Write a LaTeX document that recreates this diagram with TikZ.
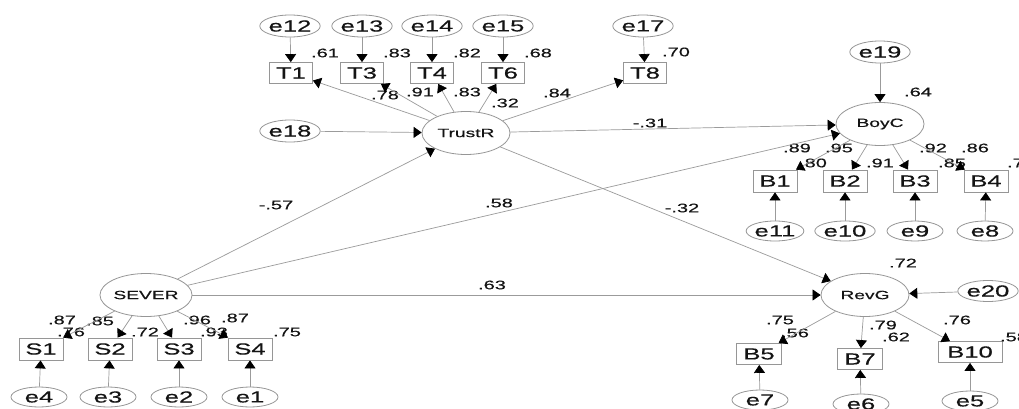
\documentclass[tikz,border=0pt]{standalone}
\usepackage{fontspec}
\setmainfont{Liberation Sans}
\newfontfamily\widesans[FakeStretch=1.6,FakeBold=0.4]{Liberation Sans}
\usetikzlibrary{arrows.meta,shapes.geometric}
\definecolor{edgegray}{RGB}{150,150,150}
\definecolor{linegray}{RGB}{155,155,155}
\definecolor{inkgray}{RGB}{20,20,20}
\begin{document}
\begin{tikzpicture}[x=1pt,y=-1pt,
  errv/.style={ellipse, draw=edgegray, line width=0.8pt, minimum width=56pt,
    minimum height=22pt, inner sep=0pt, text=inkgray,
    font=\widesans\fontsize{16}{16}\selectfont},
  obs/.style={rectangle, draw=edgegray, line width=0.8pt, minimum width=43pt,
    minimum height=21pt, inner sep=0pt, text=inkgray,
    font=\widesans\fontsize{16}{16}\selectfont},
  lat/.style={ellipse, draw=edgegray, line width=0.8pt, minimum width=88pt,
    minimum height=43pt, inner sep=0pt, text=inkgray,
    font=\widesans\fontsize{12}{12}\selectfont},
  coef/.style={inner sep=0pt, text=inkgray,
    font=\widesans\fontsize{12.5}{12.5}\selectfont},
  link/.style={draw=linegray, line width=0.7pt,
    -{Triangle[length=8pt,width=11pt,color=black]}}]
\useasboundingbox (0,0) rectangle (1019,409);
\clip (0,0) rectangle (1019,409);
\fill[white] (0,0) rectangle (1019,409);

% latent variables
\node[lat] (TrustR) at (466,133) {TrustR};
\node[lat] (BoyC) at (880,124) {BoyC};
\node[lat] (SEVER) at (146,295) {SEVER};
\node[lat] (RevG) at (865,295) {RevG};

% TrustR indicators and errors
\node[obs] (T1) at (291,73) {T1};
\node[obs] (T3) at (362,73) {T3};
\node[obs] (T4) at (432,73) {T4};
\node[obs] (T6) at (503,73) {T6};
\node[obs] (T8) at (645,73) {T8};
\node[errv] (e12) at (290,26) {e12};
\node[errv] (e13) at (362,26) {e13};
\node[errv] (e14) at (432,26) {e14};
\node[errv] (e15) at (503,26) {e15};
\node[errv] (e17) at (643,26) {e17};
\node[errv] (e18) at (290,131) {e18};
\node[errv] (e19) at (880,52) {e19};

% BoyC indicators and errors
\node[obs, minimum width=44pt, minimum height=22pt] (B1) at (775,181) {B1};
\node[obs, minimum width=44pt, minimum height=22pt] (B2) at (845,181) {B2};
\node[obs, minimum width=44pt, minimum height=22pt] (B3) at (915,181) {B3};
\node[obs, minimum width=44pt, minimum height=22pt] (B4) at (986,181) {B4};
\node[errv, minimum height=20pt] (e11) at (775,231) {e11};
\node[errv, minimum height=20pt] (e10) at (845,231) {e10};
\node[errv, minimum height=20pt] (e9) at (915,231) {e9};
\node[errv, minimum height=20pt] (e8) at (985,231) {e8};

% SEVER indicators and errors
\node[obs, minimum width=44pt, minimum height=22pt] (S1) at (41,349) {S1};
\node[obs, minimum width=44pt, minimum height=22pt] (S2) at (110,349) {S2};
\node[obs, minimum width=44pt, minimum height=22pt] (S3) at (179,349) {S3};
\node[obs, minimum width=44pt, minimum height=22pt] (S4) at (250,349) {S4};
\node[errv, minimum height=20pt] (e4) at (39,397) {e4};
\node[errv, minimum height=20pt] (e3) at (108,397) {e3};
\node[errv, minimum height=20pt] (e2) at (179,397) {e2};
\node[errv, minimum height=20pt] (e1) at (250,397) {e1};

% RevG indicators and errors
\node[obs, minimum width=45pt] (B5) at (759,354) {B5};
\node[obs, minimum width=45pt] (B7) at (860,359) {B7};
\node[obs, minimum width=64pt] (B10) at (970,352) {B10};
\node[errv, minimum height=20pt] (e7) at (760,400) {e7};
\node[errv, minimum height=20pt] (e6) at (861,404) {e6};
\node[errv, minimum height=20pt] (e5) at (970,401) {e5};
\node[errv, minimum height=21pt] (e20) at (988,291) {e20};

% coefficients
\node[coef] (c61) at (325,53) {.61};
\node[coef] (c83a) at (397,53) {.83};
\node[coef] (c82) at (467,53) {.82};
\node[coef] (c68) at (538,53) {.68};
\node[coef] (c70) at (676,52) {.70};
\node[coef] (c78) at (385,95) {.78};
\node[coef] (c91a) at (420,92) {.91};
\node[coef] (c83b) at (467,92) {.83};
\node[coef] (c32a) at (505,103) {.32};
\node[coef] (c84) at (557,93) {.84};
\node[coef] (c31) at (650,123) {-.31};
\node[coef] (c64) at (918,92) {.64};
\node[coef] (c89) at (797,148) {.89};
\node[coef] (c95) at (839,148) {.95};
\node[coef] (c92) at (933,148) {.92};
\node[coef] (c86) at (975,148) {.86};
\node[coef] (c80) at (813,163) {.80};
\node[coef] (c91b) at (880,163) {.91};
\node[coef] (c85a) at (952,163) {.85};
\node[coef] (c74) at (1021,163) {.74};
\node[coef] (c57) at (276,205) {-.57};
\node[coef] (c58a) at (499,203) {.58};
\node[coef] (c32b) at (682,208) {-.32};
\node[coef] (c63) at (492,285) {.63};
\node[coef] (c72a) at (903,263) {.72};
\node[coef] (c75a) at (780,320) {.75};
\node[coef] (c56) at (795,333) {.56};
\node[coef] (c79) at (883,325) {.79};
\node[coef] (c62) at (896,337) {.62};
\node[coef] (c76a) at (957,320) {.76};
\node[coef] (c58b) at (1014,337) {.58};
\node[coef] (c87a) at (62,320) {.87};
\node[coef] (c85b) at (100,321) {.85};
\node[coef] (c76b) at (71,332) {.76};
\node[coef] (c72b) at (145,332) {.72};
\node[coef] (c96) at (197,320) {.96};
\node[coef] (c87b) at (235,318) {.87};
\node[coef] (c93) at (214,332) {.93};
\node[coef] (c75b) at (287,332) {.75};

% error terms to indicators
\foreach \e/\v in {e12/T1,e13/T3,e14/T4,e15/T6,e17/T8,
                   e11/B1,e10/B2,e9/B3,e8/B4,
                   e4/S1,e3/S2,e2/S3,e1/S4,
                   e7/B5,e6/B7,e5/B10}
  \draw[link] (\e) -- (\v);

% loadings
\foreach \v in {T1,T3,T4,T6,T8} \draw[link] (TrustR) -- (\v);
\foreach \v in {B1,B2,B3,B4} \draw[link] (BoyC) -- (\v);
\foreach \v in {S1,S2,S3,S4} \draw[link] (SEVER) -- (\v);
\foreach \v in {B5,B7,B10} \draw[link] (RevG) -- (\v);

% disturbances
\draw[link] (e18) -- (TrustR);
\draw[link] (e19) -- (BoyC);
\draw[link] (e20) -- (RevG);

% structural paths
\draw[link] (SEVER) -- (TrustR);
\draw[link] (SEVER) -- (BoyC);
\draw[link] (SEVER) -- (RevG);
\draw[link] (TrustR) -- (BoyC);
\draw[link] (TrustR) -- (RevG);
\end{tikzpicture}
\end{document}
